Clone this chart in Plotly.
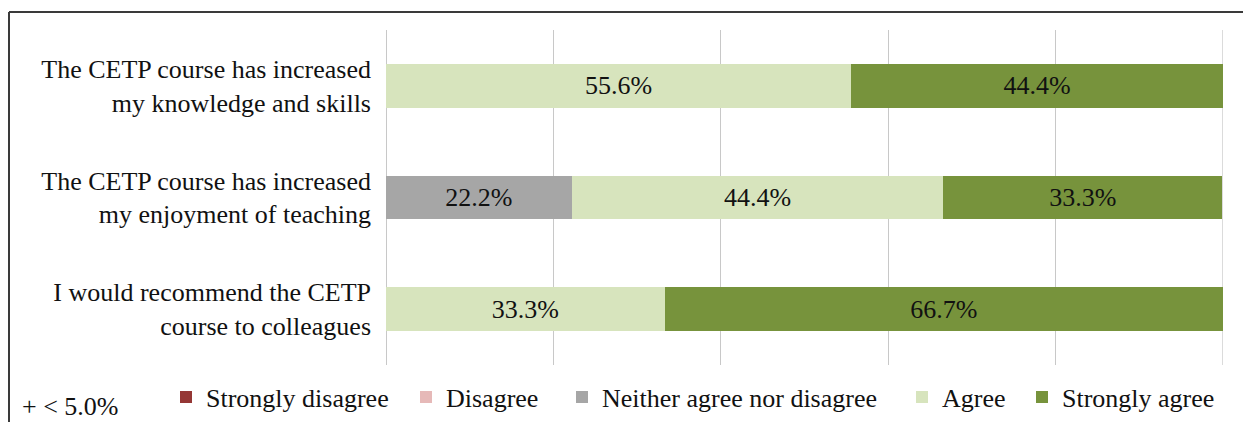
import plotly.graph_objects as go

categories = [
    "The CETP course has increased<br>my knowledge and skills",
    "The CETP course has increased<br>my enjoyment of teaching",
    "I would recommend the CETP<br>course to colleagues",
]
series_names = ["Strongly disagree", "Disagree", "Neither agree nor disagree", "Agree", "Strongly agree"]
strongly_disagree = [0, 0, 0]
disagree = [0, 0, 0]
neither = [0, 22.2, 0]
agree = [55.6, 44.4, 33.3]
strongly_agree = [44.4, 33.3, 66.7]
colors = ["#953735", "#E6B9B8", "#A6A6A6", "#D7E4BD", "#77933C"]
x_ticks = [0, 20, 40, 60, 80, 100]
footnote = "+ < 5.0%"

W, H = 1243, 422
L, R, T, B = 386, 20, 30, 57
PW, PH = W - L - R, H - T - B

def px_x(x):
    return (x - L) / PW

def px_y(y):
    return (H - B - y) / PH

FONT = "Liberation Serif, Times New Roman, serif"
FS = 26
TXT = "#111111"
GRID = "#C8C8C8"

fig = go.Figure()
all_series = [strongly_disagree, disagree, neither, agree, strongly_agree]
legend_px = [166, 406, 562, 902, 1022]
for i, (name, vals, col) in enumerate(zip(series_names, all_series, colors)):
    lname = "legend" if i == 0 else f"legend{i+1}"
    fig.add_trace(go.Bar(
        y=categories, x=vals, name=name, orientation="h",
        marker=dict(color=col, line=dict(width=0)),
        width=0.39,
        text=[f"{v:.1f}%" if v > 0 else "" for v in vals],
        textposition="inside", insidetextanchor="middle",
        textfont=dict(family=FONT, size=FS, color=TXT),
        constraintext="none",
        legend=lname,
        hoverinfo="skip",
    ))

layout_legends = {}
for i, lx in enumerate(legend_px):
    lname = "legend" if i == 0 else f"legend{i+1}"
    layout_legends[lname] = dict(
        xref="container", yref="container",
        x=lx / W, y=1 - 397 / H, xanchor="left", yanchor="middle",
        orientation="h", font=dict(family=FONT, size=FS, color=TXT),
        bgcolor="rgba(0,0,0,0)", borderwidth=0,
        itemclick=False, itemdoubleclick=False,
    )

fig.update_layout(
    width=W, height=H,
    margin=dict(l=L, r=R, t=T, b=B, autoexpand=False),
    paper_bgcolor="white", plot_bgcolor="white",
    barmode="stack",
    showlegend=True,
    font=dict(family=FONT, size=FS, color=TXT),
    **layout_legends,
    xaxis=dict(range=[0, 100], tickvals=x_ticks, showticklabels=False,
               showgrid=True, gridcolor=GRID, gridwidth=1.3,
               zeroline=True, zerolinecolor=GRID, zerolinewidth=1.3,
               showline=False, fixedrange=True),
    yaxis=dict(autorange="reversed", showgrid=False, zeroline=False,
               showline=False, ticks="", ticklabelstandoff=14,
               tickfont=dict(family=FONT, size=FS, color=TXT), fixedrange=True),
    annotations=[dict(
        text=footnote, xref="paper", yref="paper",
        x=px_x(20), y=px_y(406), xanchor="left", yanchor="middle",
        showarrow=False, font=dict(family=FONT, size=26, color=TXT),
    )],
    shapes=[
        dict(type="line", xref="x", yref="paper", layer="below",
             x0=x_ticks[-1], x1=x_ticks[-1], y0=0, y1=1,
             line=dict(color=GRID, width=1.3)),
        dict(type="line", xref="paper", yref="paper",
             x0=px_x(9), x1=px_x(1243), y0=px_y(12), y1=px_y(12),
             line=dict(color="#3a3a3a", width=2)),
        dict(type="line", xref="paper", yref="paper",
             x0=px_x(9), x1=px_x(9), y0=px_y(12), y1=px_y(422),
             line=dict(color="#3a3a3a", width=2)),
    ],
)

fig.write_html("out.html")
